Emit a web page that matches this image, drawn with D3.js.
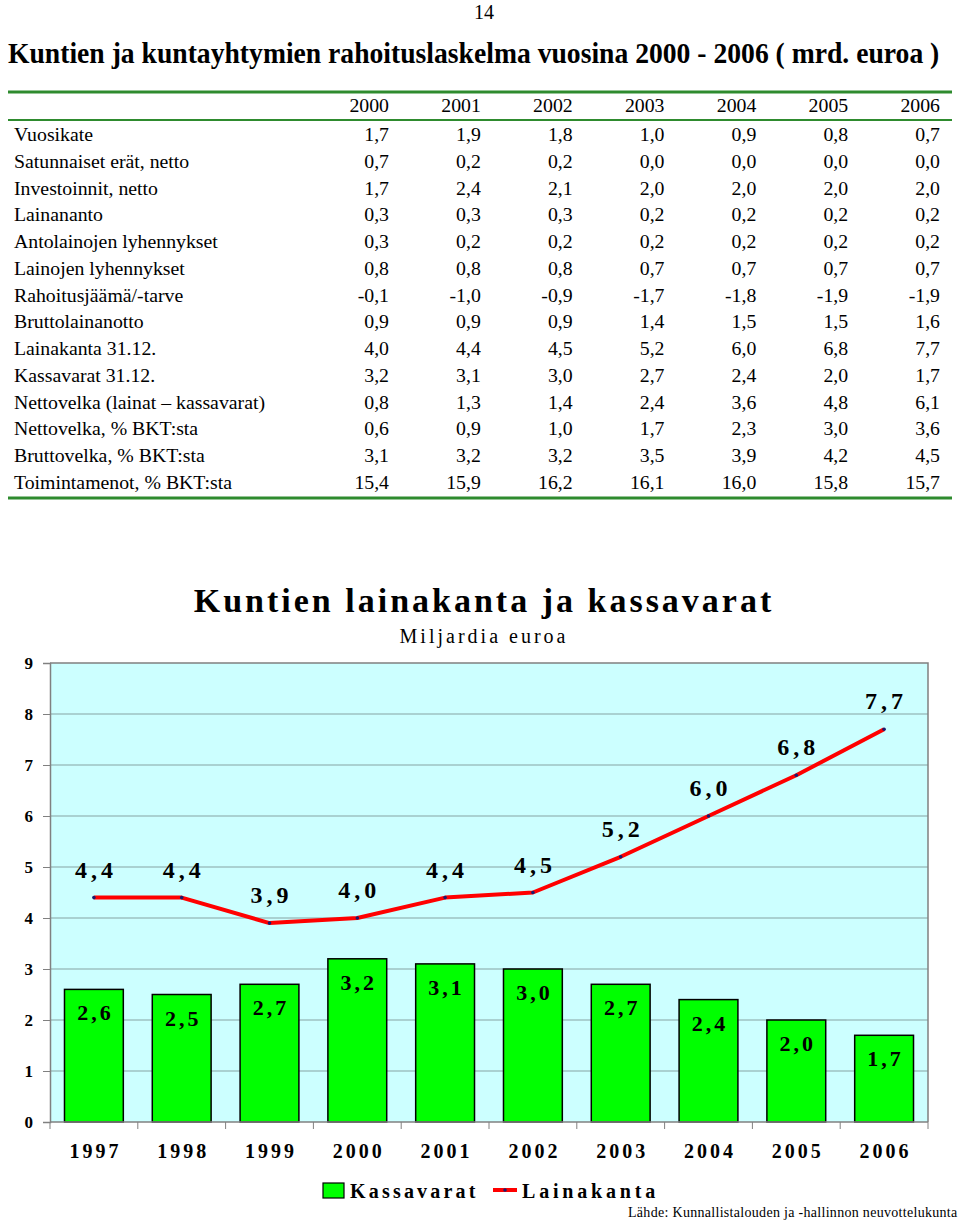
<!DOCTYPE html>
<html>
<head>
<meta charset="utf-8">
<script src="https://cdn.jsdelivr.net/npm/d3@7"></script>
<style>
  body { margin: 0; background: #fff; }
  svg { display: block; font-family: "Liberation Serif", "Times New Roman", serif; }
</style>
</head>
<body>
<div id="page"></div>
<script>
// table data
const tableYears = ["2000", "2001", "2002", "2003", "2004", "2005", "2006"];
const rowLabels = [
  "Vuosikate", "Satunnaiset erät, netto", "Investoinnit, netto", "Lainananto",
  "Antolainojen lyhennykset", "Lainojen lyhennykset", "Rahoitusjäämä/-tarve",
  "Bruttolainanotto", "Lainakanta 31.12.", "Kassavarat 31.12.",
  "Nettovelka (lainat \u2013 kassavarat)", "Nettovelka, % BKT:sta",
  "Bruttovelka, % BKT:sta", "Toimintamenot, % BKT:sta"
];
const vuosikate      = [1.7, 1.9, 1.8, 1.0, 0.9, 0.8, 0.7];
const satunnaiset    = [0.7, 0.2, 0.2, 0.0, 0.0, 0.0, 0.0];
const investoinnit   = [1.7, 2.4, 2.1, 2.0, 2.0, 2.0, 2.0];
const lainananto     = [0.3, 0.3, 0.3, 0.2, 0.2, 0.2, 0.2];
const antolainojen   = [0.3, 0.2, 0.2, 0.2, 0.2, 0.2, 0.2];
const lainojenLyh    = [0.8, 0.8, 0.8, 0.7, 0.7, 0.7, 0.7];
const rahoitusjaama  = [-0.1, -1.0, -0.9, -1.7, -1.8, -1.9, -1.9];
const bruttolainan   = [0.9, 0.9, 0.9, 1.4, 1.5, 1.5, 1.6];
const lainakantaTbl  = [4.0, 4.4, 4.5, 5.2, 6.0, 6.8, 7.7];
const kassavaratTbl  = [3.2, 3.1, 3.0, 2.7, 2.4, 2.0, 1.7];
const nettovelka     = [0.8, 1.3, 1.4, 2.4, 3.6, 4.8, 6.1];
const nettovelkaBkt  = [0.6, 0.9, 1.0, 1.7, 2.3, 3.0, 3.6];
const bruttovelkaBkt = [3.1, 3.2, 3.2, 3.5, 3.9, 4.2, 4.5];
const toimintamenot  = [15.4, 15.9, 16.2, 16.1, 16.0, 15.8, 15.7];

// chart data
const chartYears = ["1997", "1998", "1999", "2000", "2001", "2002", "2003", "2004", "2005", "2006"];
const kassavarat = [2.6, 2.5, 2.7, 3.2, 3.1, 3.0, 2.7, 2.4, 2.0, 1.7];
const lainakanta = [4.4, 4.4, 3.9, 4.0, 4.4, 4.5, 5.2, 6.0, 6.8, 7.7];
const yTicks = [0, 1, 2, 3, 4, 5, 6, 7, 8, 9];

const tableRows = [vuosikate, satunnaiset, investoinnit, lainananto, antolainojen,
  lainojenLyh, rahoitusjaama, bruttolainan, lainakantaTbl, kassavaratTbl,
  nettovelka, nettovelkaBkt, bruttovelkaBkt, toimintamenot];

const fmt = v => d3.format(".1f")(v).replace(".", ",").replace("\u2212", "-");

const W = 960, H = 1222;
const svg = d3.select("#page").append("svg").attr("width", W).attr("height", H);

// page number + heading
svg.append("text").attr("x", 484).attr("y", 19).attr("text-anchor", "middle")
  .attr("font-size", 20).text("14");

// heading is squeezed horizontally to fit the width, like the condensed original
const headG = svg.append("g");
const head = headG.append("text").attr("x", 0).attr("y", 0)
  .attr("font-size", 30).attr("font-weight", "bold")
  .text("Kuntien ja kuntayhtymien rahoituslaskelma vuosina 2000 - 2006 ( mrd. euroa )");
const headW = head.node().getComputedTextLength();
headG.attr("transform", `translate(8, 63) scale(${932 / headW}, 1)`);

// table
const green = "#2e8b2e";
svg.append("line").attr("x1", 8).attr("x2", 952).attr("y1", 92).attr("y2", 92)
  .attr("stroke", green).attr("stroke-width", 3);
svg.append("line").attr("x1", 8).attr("x2", 952).attr("y1", 120).attr("y2", 120)
  .attr("stroke", green).attr("stroke-width", 2);
svg.append("line").attr("x1", 8).attr("x2", 952).attr("y1", 498).attr("y2", 498)
  .attr("stroke", green).attr("stroke-width", 3);

const colX = d3.scalePoint().domain(tableYears).range([389, 940]);
const rowY = d3.scaleLinear().domain([0, rowLabels.length - 1]).range([141, 489]);
const tfs = 19.8;

svg.append("g").selectAll("text").data(tableYears).enter().append("text")
  .attr("x", d => colX(d)).attr("y", 112).attr("text-anchor", "end")
  .attr("font-size", tfs).text(d => d);

const rows = svg.append("g").selectAll("g").data(tableRows).enter().append("g")
  .attr("transform", (d, i) => `translate(0, ${rowY(i)})`);

rows.append("text").attr("x", 14).attr("font-size", tfs).text((d, i) => rowLabels[i]);

rows.selectAll(".val").data(d => d).enter().append("text")
  .attr("class", "val")
  .attr("x", (d, i) => colX(tableYears[i])).attr("text-anchor", "end")
  .attr("font-size", tfs).text(d => fmt(d));

// chart
const plot = { left: 50, right: 928, top: 663, bottom: 1122 };

const x = d3.scaleBand().domain(chartYears)
  .range([plot.left, plot.right])
  .paddingInner(0.33).paddingOuter(0.165);

const y = d3.scaleLinear().domain([0, 9]).range([plot.bottom, plot.top]);

svg.append("text").attr("x", 484).attr("y", 612).attr("text-anchor", "middle")
  .attr("font-size", 34).attr("font-weight", "bold").attr("letter-spacing", 3)
  .text("Kuntien lainakanta ja kassavarat");
svg.append("text").attr("x", 484).attr("y", 643).attr("text-anchor", "middle")
  .attr("font-size", 20).attr("letter-spacing", 3)
  .text("Miljardia euroa");

svg.append("rect")
  .attr("x", plot.left).attr("y", plot.top)
  .attr("width", plot.right - plot.left).attr("height", plot.bottom - plot.top)
  .attr("fill", "#ccffff");

// grid
svg.append("g").selectAll("line").data(yTicks.filter(t => t > 0 && t < 9)).enter()
  .append("line")
  .attr("x1", plot.left).attr("x2", plot.right)
  .attr("y1", d => y(d)).attr("y2", d => y(d))
  .attr("stroke", "#86a3a3").attr("stroke-width", 1);

// border top/right
svg.append("path")
  .attr("d", `M${plot.left},${plot.top}H${plot.right}V${plot.bottom}`)
  .attr("fill", "none").attr("stroke", "#808080").attr("stroke-width", 1.5);

// y axis
const yAxis = d3.axisLeft(y).tickValues(yTicks).tickSize(7).tickPadding(10).tickFormat(d3.format("d"));
const yAxisG = svg.append("g").attr("transform", `translate(${plot.left},0)`).call(yAxis);
yAxisG.select(".domain").attr("stroke", "#808080").attr("stroke-width", 1.5);
yAxisG.selectAll(".tick line").attr("stroke", "#808080");
yAxisG.selectAll(".tick text")
  .attr("font-family", "Liberation Serif, serif")
  .attr("font-size", 17).attr("font-weight", "bold").attr("fill", "#000");

// bars
svg.append("g").selectAll("rect").data(kassavarat).enter().append("rect")
  .attr("x", (d, i) => x(chartYears[i]))
  .attr("y", d => y(d))
  .attr("width", x.bandwidth())
  .attr("height", d => y(0) - y(d))
  .attr("fill", "#00ff00")
  .attr("stroke", "#000").attr("stroke-width", 1.5);

svg.append("g").selectAll("text").data(kassavarat).enter().append("text")
  .attr("x", (d, i) => x(chartYears[i]) + x.bandwidth() / 2 + 1.5)
  .attr("y", d => y(d) + 31)
  .attr("text-anchor", "middle")
  .attr("font-size", 22).attr("font-weight", "bold").attr("letter-spacing", 3)
  .text(d => fmt(d));

// x axis
const bounds = chartYears.map(c => x(c) - (x.step() - x.bandwidth()) / 2).concat([plot.right]);
const xAxisG = svg.append("g");
xAxisG.append("line")
  .attr("x1", plot.left).attr("x2", plot.right)
  .attr("y1", plot.bottom).attr("y2", plot.bottom)
  .attr("stroke", "#808080").attr("stroke-width", 1.5);
xAxisG.selectAll(".tk").data(bounds).enter().append("line")
  .attr("class", "tk")
  .attr("x1", d => d).attr("x2", d => d)
  .attr("y1", plot.bottom).attr("y2", plot.bottom + 7)
  .attr("stroke", "#808080");
xAxisG.selectAll("text").data(chartYears).enter().append("text")
  .attr("x", d => x(d) + x.bandwidth() / 2 + 1.5)
  .attr("y", 1158)
  .attr("text-anchor", "middle")
  .attr("font-size", 20).attr("font-weight", "bold").attr("letter-spacing", 3)
  .text(d => d);

// line
const line = d3.line()
  .x((d, i) => x(chartYears[i]) + x.bandwidth() / 2)
  .y(d => y(d));

svg.append("path").datum(lainakanta)
  .attr("d", line)
  .attr("fill", "none").attr("stroke", "#ff0000")
  .attr("stroke-width", 4).attr("stroke-linejoin", "round");

svg.append("g").selectAll("circle").data(lainakanta).enter().append("circle")
  .attr("cx", (d, i) => x(chartYears[i]) + x.bandwidth() / 2)
  .attr("cy", d => y(d))
  .attr("r", 1.8).attr("fill", "#1a1a6e");

svg.append("g").selectAll("text").data(lainakanta).enter().append("text")
  .attr("x", (d, i) => x(chartYears[i]) + x.bandwidth() / 2 + 2)
  .attr("y", d => y(d) - 20)
  .attr("text-anchor", "middle")
  .attr("font-size", 24).attr("font-weight", "bold").attr("letter-spacing", 4)
  .text(d => fmt(d));

// legend
const legend = svg.append("g");
legend.append("rect").attr("x", 323).attr("y", 1183).attr("width", 21).attr("height", 15)
  .attr("fill", "#00ff00").attr("stroke", "#000").attr("stroke-width", 1.2);
legend.append("text").attr("x", 350).attr("y", 1198)
  .attr("font-size", 20).attr("font-weight", "bold").attr("letter-spacing", 3.2)
  .text("Kassavarat");
legend.append("line").attr("x1", 493).attr("x2", 517).attr("y1", 1190).attr("y2", 1190)
  .attr("stroke", "#ff0000").attr("stroke-width", 4);
legend.append("circle").attr("cx", 505).attr("cy", 1190).attr("r", 1.8).attr("fill", "#1a1a6e");
legend.append("text").attr("x", 522).attr("y", 1198)
  .attr("font-size", 20).attr("font-weight", "bold").attr("letter-spacing", 3.8)
  .text("Lainakanta");

svg.append("text").attr("x", 628).attr("y", 1217)
  .attr("font-size", 14).attr("letter-spacing", 0.3)
  .text("Lähde: Kunnallistalouden ja -hallinnon neuvottelukunta");
</script>
</body>
</html>
